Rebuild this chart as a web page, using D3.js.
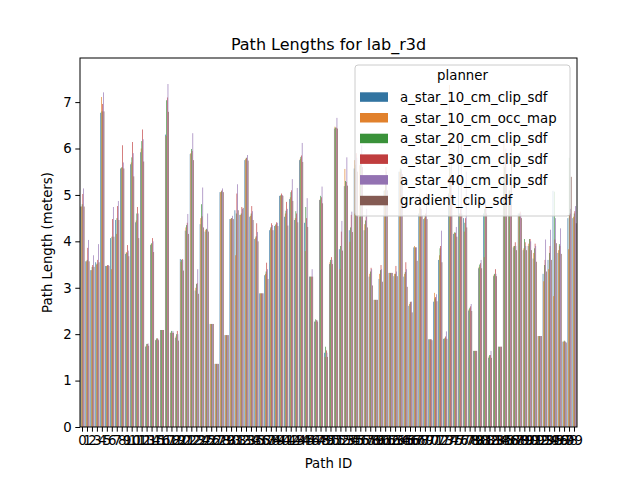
<!DOCTYPE html>
<html>
<head>
<meta charset="utf-8">
<script src="https://cdn.jsdelivr.net/npm/d3@7"></script>
<style>
  body { margin: 0; background: #fff; }
  svg { font-family: "DejaVu Sans", sans-serif; }
</style>
</head>
<body>
<div id="chart"></div>
<script>
const planners = [
  "a_star_10_cm_clip_sdf",
  "a_star_10_cm_occ_map",
  "a_star_20_cm_clip_sdf",
  "a_star_30_cm_clip_sdf",
  "a_star_40_cm_clip_sdf",
  "gradient_clip_sdf"
];

const pathIds = d3.range(100).map(String);

// path length per path id, one list per planner
const aStar10Clip = [
  4.75, 3.57, 3.38, 3.55, 6.77, 3.47, 4.07, 4.46, 5.57, 3.73,
  5.66, 4.41, 5.92, 1.73, 3.92, 1.87, 2.09, 6.30, 2.03, 1.92,
  3.62, 4.23, 5.88, 2.94, 4.37, 4.21, 2.22, 1.36, 5.06, 1.98,
  4.48, 4.67, 4.57, 5.75, 4.53, 4.05, 2.88, 3.27, 4.24, 4.33,
  4.98, 4.53, 4.91, 4.46, 5.75, 4.40, 3.24, 2.27, 4.89, 1.60,
  3.51, 6.43, 3.83, 5.19, 4.24, 5.57, 4.53, 4.24, 3.24, 2.74,
  3.19, 5.09, 3.32, 3.25, 5.50, 3.24, 2.61, 3.87, 4.60, 4.48,
  1.89, 2.70, 3.60, 1.90, 5.03, 4.16, 6.30, 4.50, 2.51, 1.64,
  3.42, 4.60, 1.49, 3.25, 1.73, 5.30, 5.00, 3.87, 4.60, 3.81,
  3.90, 3.63, 1.96, 3.30, 3.60, 5.09, 3.75, 1.84, 4.50, 4.50
];
const aStar10Occ = [
  4.75, 3.57, 3.38, 3.50, 7.11, 3.47, 3.40, 4.16, 5.58, 3.77,
  5.70, 4.45, 6.00, 1.75, 3.94, 1.88, 2.09, 6.27, 2.03, 1.95,
  3.56, 4.30, 5.90, 3.00, 4.50, 4.25, 2.22, 1.36, 5.06, 1.98,
  4.48, 3.70, 4.57, 5.77, 4.55, 4.08, 2.88, 3.30, 4.28, 4.35,
  4.98, 4.60, 4.95, 4.50, 5.78, 3.79, 3.24, 2.27, 4.90, 1.51,
  3.55, 6.47, 3.40, 5.56, 3.99, 5.75, 5.64, 4.37, 3.30, 2.74,
  3.30, 5.10, 3.32, 3.30, 5.50, 3.30, 2.65, 3.90, 5.03, 4.50,
  1.89, 2.89, 3.70, 1.90, 7.37, 4.18, 4.60, 4.21, 2.54, 1.64,
  3.45, 3.66, 1.52, 3.28, 1.73, 6.20, 5.10, 3.90, 4.55, 3.85,
  3.95, 3.75, 1.96, 3.14, 3.40, 2.82, 3.81, 1.84, 3.83, 4.53
];
const aStar20Clip = [
  4.80, 3.60, 3.45, 3.52, 6.80, 3.47, 4.10, 4.50, 5.60, 3.75,
  5.81, 4.60, 6.16, 1.79, 3.96, 1.91, 2.09, 7.04, 2.07, 2.00,
  3.60, 4.35, 5.99, 3.08, 4.80, 4.27, 2.22, 1.36, 5.08, 1.98,
  4.50, 4.60, 4.60, 5.80, 4.60, 4.11, 2.88, 3.35, 4.31, 4.37,
  5.00, 4.66, 5.06, 4.65, 5.82, 4.74, 3.24, 2.32, 4.98, 1.73,
  3.60, 6.45, 3.90, 5.30, 4.30, 5.65, 5.82, 4.45, 3.35, 2.74,
  3.38, 5.30, 3.32, 3.30, 5.57, 3.34, 2.69, 3.87, 4.70, 4.55,
  1.89, 2.77, 3.85, 1.92, 5.60, 4.20, 4.60, 4.40, 2.57, 1.64,
  3.50, 4.70, 1.55, 3.30, 1.73, 5.60, 5.10, 3.90, 4.60, 4.05,
  4.05, 3.85, 1.96, 3.49, 3.75, 5.07, 3.94, 1.86, 5.80, 4.60
];
const aStar30Clip = [
  5.02, 3.86, 3.49, 3.60, 6.96, 3.49, 4.48, 4.76, 6.07, 3.92,
  6.14, 4.74, 6.41, 1.79, 4.07, 1.91, 2.09, 7.10, 2.03, 2.07,
  3.62, 4.40, 5.95, 3.10, 4.54, 4.25, 2.22, 1.36, 5.10, 1.98,
  4.50, 5.03, 4.74, 5.80, 4.76, 4.39, 2.88, 3.54, 4.39, 4.41,
  5.03, 4.85, 5.10, 4.60, 5.85, 4.50, 3.24, 2.30, 4.95, 1.65,
  3.66, 6.45, 4.21, 5.28, 4.57, 5.90, 5.90, 4.53, 3.43, 2.74,
  3.49, 5.60, 3.32, 3.47, 5.50, 3.55, 2.70, 3.87, 4.74, 4.60,
  1.89, 2.80, 3.90, 1.95, 5.40, 4.18, 4.70, 4.50, 2.60, 1.64,
  3.53, 4.90, 1.55, 3.40, 1.73, 5.90, 5.00, 3.98, 4.64, 3.98,
  4.05, 3.95, 1.96, 3.60, 3.90, 4.04, 3.90, 1.84, 4.60, 4.65
];
const aStar40Clip = [
  5.14, 4.03, 3.70, 3.94, 7.21, 3.49, 4.74, 4.87, 5.70, 3.80,
  5.90, 4.60, 6.20, 1.80, 4.00, 1.90, 2.09, 7.39, 2.07, 2.00,
  3.60, 4.59, 6.33, 3.40, 5.16, 4.60, 2.22, 1.36, 5.14, 1.98,
  4.55, 5.23, 4.70, 5.86, 4.65, 4.20, 2.88, 3.40, 4.35, 4.40,
  5.00, 4.70, 5.34, 5.15, 6.12, 4.93, 3.40, 2.30, 5.18, 1.60,
  3.60, 6.66, 4.44, 5.81, 4.64, 5.80, 6.07, 4.70, 3.40, 2.74,
  3.40, 5.50, 3.32, 3.35, 5.55, 3.40, 2.70, 3.87, 4.70, 5.03,
  1.89, 2.86, 4.23, 2.06, 5.90, 4.31, 6.20, 5.50, 2.65, 1.64,
  3.60, 4.75, 1.64, 3.30, 1.73, 6.00, 5.30, 3.90, 4.60, 3.90,
  4.00, 3.90, 1.96, 4.04, 4.25, 4.50, 4.28, 1.84, 4.70, 4.76
];
const gradientClip = [
  4.75, 3.57, 3.45, 3.55, 6.80, 3.47, 4.10, 4.46, 5.57, 3.68,
  5.40, 4.07, 5.72, 1.75, 3.77, 1.87, 2.09, 6.79, 2.03, 1.86,
  3.37, 4.16, 5.75, 2.87, 4.30, 4.21, 2.22, 1.36, 5.06, 1.98,
  4.48, 4.67, 4.72, 5.74, 4.46, 4.00, 2.88, 3.19, 4.24, 4.33,
  4.98, 4.34, 4.87, 4.41, 5.71, 4.31, 3.24, 2.27, 4.82, 1.51,
  3.51, 6.43, 3.80, 5.20, 4.20, 5.50, 5.60, 4.30, 3.05, 2.74,
  3.13, 5.10, 3.32, 3.25, 5.45, 3.02, 2.47, 3.58, 4.55, 4.48,
  1.87, 2.71, 3.55, 1.90, 5.03, 4.10, 4.60, 4.30, 2.50, 1.64,
  3.42, 4.60, 1.49, 3.25, 1.73, 5.30, 6.00, 3.81, 4.50, 3.81,
  3.81, 3.56, 1.96, 3.35, 3.60, 3.96, 3.73, 1.82, 5.39, 4.39
];

const series = [aStar10Clip, aStar10Occ, aStar20Clip, aStar30Clip, aStar40Clip, gradientClip];
const yTicks = [0, 1, 2, 3, 4, 5, 6, 7];
const yMax = 7.95;

const colors = ["#3274a1", "#e1812c", "#3a923a", "#c03d3e", "#9372b2", "#845b53"];

const w = 640;
const h = 480;
const plotL = 80, plotR = 577, plotT = 58, plotB = 427;

const svg = d3.select("#chart").append("svg")
  .attr("width", w)
  .attr("height", h);

const x = d3.scaleBand()
  .domain(pathIds)
  .range([plotL, plotR])
  .paddingInner(0.2)
  .paddingOuter(0.1);

const xHue = d3.scaleBand()
  .domain(planners)
  .range([0, x.bandwidth()]);

const y = d3.scaleLinear()
  .domain([0, yMax])
  .range([plotB, plotT]);

const color = d3.scaleOrdinal().domain(planners).range(colors);

// bars
planners.forEach((p, k) => {
  svg.append("g")
    .selectAll("rect")
    .data(series[k])
    .enter()
    .append("rect")
    .attr("x", (d, i) => x(pathIds[i]) + xHue(p))
    .attr("y", d => y(d))
    .attr("width", xHue.bandwidth())
    .attr("height", d => y(0) - y(d))
    .attr("fill", color(p));
});

// axes
const xAxis = d3.axisBottom(x).tickSize(4.7).tickPadding(3.5);
const yAxis = d3.axisLeft(y).tickValues(yTicks).tickSize(4.7).tickPadding(3.5);

const gx = svg.append("g")
  .attr("transform", `translate(0,${plotB})`)
  .call(xAxis);
const gy = svg.append("g")
  .attr("transform", `translate(${plotL},0)`)
  .call(yAxis);

[gx, gy].forEach(g => {
  g.select(".domain").remove();
  g.selectAll("text")
    .attr("font-size", 13.3)
    .attr("font-family", "DejaVu Sans")
    .attr("fill", "#000");
  g.selectAll("line").attr("stroke", "#000").attr("stroke-width", 1);
});

// frame
svg.append("rect")
  .attr("x", plotL)
  .attr("y", plotT)
  .attr("width", plotR - plotL)
  .attr("height", plotB - plotT)
  .attr("fill", "none")
  .attr("stroke", "#000")
  .attr("stroke-width", 1);

// title + labels
svg.append("text")
  .attr("x", (plotL + plotR) / 2)
  .attr("y", 50)
  .attr("text-anchor", "middle")
  .attr("font-size", 16)
  .text("Path Lengths for lab_r3d");

svg.append("text")
  .attr("x", (plotL + plotR) / 2)
  .attr("y", 468)
  .attr("text-anchor", "middle")
  .attr("font-size", 13.3)
  .text("Path ID");

svg.append("text")
  .attr("transform", `translate(52,${(plotT + plotB) / 2}) rotate(-90)`)
  .attr("text-anchor", "middle")
  .attr("font-size", 13.3)
  .text("Path Length (meters)");

// legend
const lg = svg.append("g").attr("transform", "translate(355,65)");
lg.append("rect")
  .attr("width", 215)
  .attr("height", 151)
  .attr("rx", 3)
  .attr("fill", "#fff")
  .attr("fill-opacity", 0.8)
  .attr("stroke", "#cccccc")
  .attr("stroke-width", 1);

lg.append("text")
  .attr("x", 107.5)
  .attr("y", 15)
  .attr("text-anchor", "middle")
  .attr("font-size", 13.3)
  .text("planner");

planners.forEach((p, k) => {
  const row = lg.append("g").attr("transform", `translate(0,${32 + k * 20.7})`);
  row.append("rect")
    .attr("x", 5)
    .attr("y", -4.7)
    .attr("width", 28)
    .attr("height", 9.5)
    .attr("fill", color(p));
  row.append("text")
    .attr("x", 45)
    .attr("y", 4.8)
    .attr("font-size", 13.3)
    .text(p);
});
</script>
</body>
</html>
